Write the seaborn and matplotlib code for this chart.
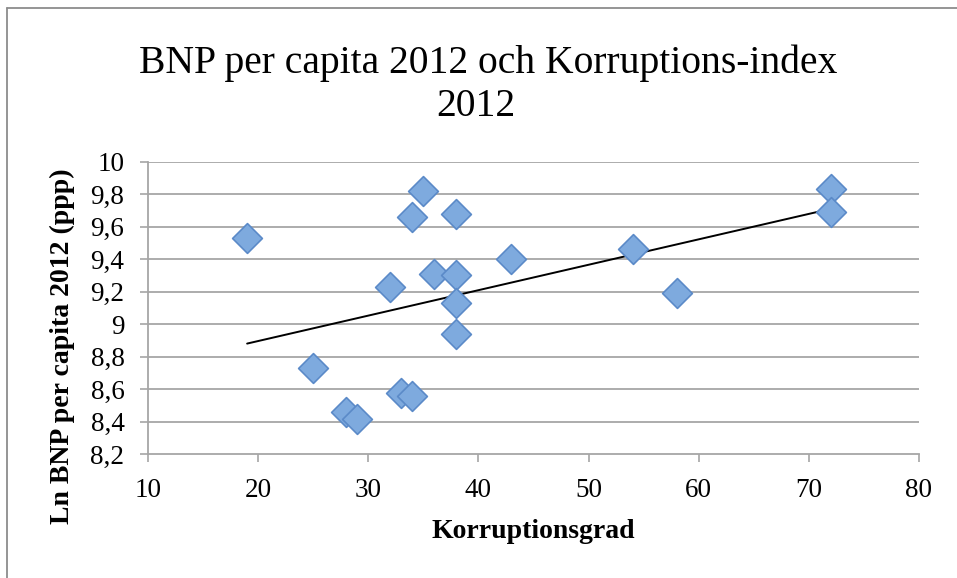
import numpy as np
import pandas as pd
import matplotlib
matplotlib.use("Agg")
import matplotlib.pyplot as plt
from matplotlib.lines import Line2D
import seaborn as sns

# Data
korruption = [19, 35, 34, 38, 43, 36, 38, 32, 38, 38, 25, 33, 34, 28, 29, 72, 72, 54, 58]
ln_bnp = [9.53, 9.82, 9.66, 9.68, 9.40, 9.31, 9.30, 9.23, 9.13, 8.94,
          8.73, 8.58, 8.56, 8.46, 8.42, 9.83, 9.69, 9.46, 9.19]
x_ticks = [10, 20, 30, 40, 50, 60, 70, 80]
y_ticks = [8.2, 8.4, 8.6, 8.8, 9.0, 9.2, 9.4, 9.6, 9.8, 10.0]
y_tick_labels = ["8,2", "8,4", "8,6", "8,8", "9", "9,2", "9,4", "9,6", "9,8", "10"]

df = pd.DataFrame({"Korruptionsgrad": korruption, "LnBNP": ln_bnp})

sns.set_theme(style="white")
plt.rcParams['font.family'] = ['Liberation Serif', 'DejaVu Serif']
plt.rcParams['text.color'] = 'black'

W, H = 957, 578
fig = plt.figure(figsize=(W / 100, H / 100), dpi=100)
ax = fig.add_axes([148 / W, 1 - 454.3 / H, (919 - 148) / W, (454.3 - 161.7) / H])

grid_c = "#a6a6a6"
ax.set_axisbelow(True)
for yv in y_ticks[1:]:
    ax.axhline(yv, color=grid_c, lw=1.3, zorder=0)

sns.regplot(data=df, x="Korruptionsgrad", y="LnBNP", scatter=False, ci=None,
            truncate=True, color="black", line_kws={"lw": 1.4, "zorder": 2}, ax=ax)
sns.scatterplot(data=df, x="Korruptionsgrad", y="LnBNP", marker="D", s=230,
                color="#7eaade", edgecolor="#5b8ac8", linewidth=1.2, zorder=3, ax=ax)

ax.set_xlim(10, 80)
ax.set_ylim(8.2, 10.0)
ax.set_xticks(x_ticks)
ax.set_xticklabels([str(v) for v in x_ticks])
ax.set_yticks(y_ticks)
ax.set_yticklabels(y_tick_labels)
ax.tick_params(axis="both", which="major", direction="out", length=6, width=1.2,
               color=grid_c, labelsize=19.5, labelcolor="black")
ax.tick_params(axis="x", bottom=True, pad=11)
ax.tick_params(axis="y", left=True, pad=11)
for side in ["top", "right"]:
    ax.spines[side].set_visible(False)
for side in ["left", "bottom"]:
    ax.spines[side].set_color(grid_c)
    ax.spines[side].set_linewidth(1.3)
ax.set_xlabel("")
ax.set_ylabel("")

fig.text(533 / W, 1 - 531 / H, "Korruptionsgrad", ha="center", va="center",
         fontsize=20, fontweight="bold", color="black")
fig.text(62 / W, 1 - 346 / H, "Ln BNP per capita 2012 (ppp)", ha="center", va="center",
         rotation=90, fontsize=20, fontweight="bold", color="black")
fig.text(488 / W, 1 - 63 / H, "BNP per capita 2012 och Korruptions-index", ha="center",
         va="center", fontsize=28.5, color="black")
fig.text(476 / W, 1 - 106 / H, "2012", ha="center", va="center", fontsize=28.5,
         color="black")

# chart-area border (top and left visible in the crop)
border_c = "#8c8c8c"
fig.add_artist(Line2D([7 / W, 1.0], [1 - 8 / H, 1 - 8 / H], color=border_c, lw=1.3,
                      transform=fig.transFigure))
fig.add_artist(Line2D([7 / W, 7 / W], [1 - 8 / H, 0.0], color=border_c, lw=1.3,
                      transform=fig.transFigure))

fig.savefig("out.png", dpi=100)
